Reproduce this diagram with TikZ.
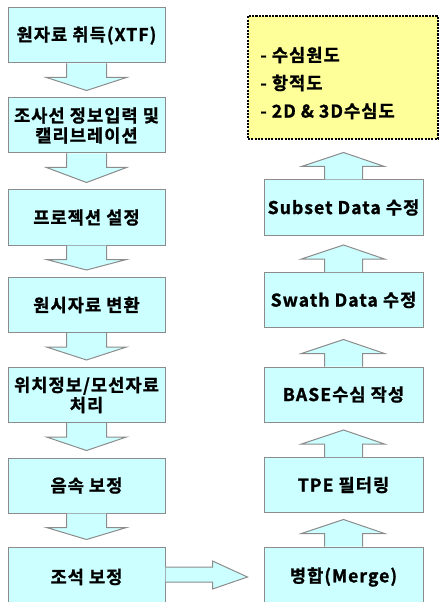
\documentclass[tikz,border=0pt]{standalone}
\usepackage{fontspec}
\newfontfamily\kfont{Noto Sans CJK KR}[UprightFont=* Bold, LetterSpace=6, FakeBold=1.2]
\usetikzlibrary{calc}
\definecolor{boxfill}{HTML}{CCFFFF}
\definecolor{boxline}{HTML}{8C8C8C}
\definecolor{noteyellow}{HTML}{FFFF99}
\tikzset{
  box/.style={draw=boxline, line width=0.75pt, fill=boxfill, inner sep=0pt, align=center,
    font=\kfont\fontsize{13.2}{13.5}\selectfont, text=black},
  lbox/.style={box, minimum width=117.75pt, minimum height=41.25pt},
  rbox/.style={box, minimum width=119.25pt, minimum height=41.25pt},
  blockarrow/.style={draw=boxline, line width=0.75pt, fill=boxfill, line join=miter},
  note/.style={draw=black, line width=1.3pt, dash pattern=on 1.6pt off 0.9pt, fill=noteyellow,
    minimum width=142.5pt, minimum height=92.25pt, inner sep=0pt}
}
% down block arrow from node #1 (south) to node #2
\newcommand\downblock[2]{%
  \draw[blockarrow] ($(#1.south)+(-20,0)$) -- ($(#1.south)+(-20,14)$) -- ($(#1.south)+(-40,14)$)
    -- ($(#2.north)+(0,-7)$) -- ($(#1.south)+(40,14)$) -- ($(#1.south)+(20,14)$) -- ($(#1.south)+(20,0)$);}
% up block arrow from node #1 (north) towards node #2
\newcommand\upblock[2]{%
  \draw[blockarrow] ($(#1.north)+(-19,0)$) -- ($(#1.north)+(-19,-13)$) -- ($(#1.north)+(-42,-13)$)
    -- ($(#1.north)+(0,-27)$) -- ($(#1.north)+(41,-13)$) -- ($(#1.north)+(19,-13)$) -- ($(#1.north)+(19,0)$);}
\begin{document}
\begin{tikzpicture}[x=0.75pt, y=-0.75pt]
\useasboundingbox (0,0) rectangle (440,602);
\clip (0,0) rectangle (440,602);
% left column
\node[lbox] (a1) at (86.5,35.5) {원자료 취득(XTF)};
\node[lbox] (a2) at (86.5,125.5) {조사선 정보입력 및\\[1.5pt]캘리브레이션};
\node[lbox] (a3) at (86.5,217.5) {프로젝션 설정};
\node[lbox] (a4) at (86.5,305) {원시자료 변환};
\node[lbox] (a5) at (86.5,395) {위치정보/모선자료\\[1.5pt]처리};
\node[lbox] (a6) at (86.5,485.5) {음속 보정};
\node[lbox, minimum height=45pt] (a7) at (86.5,577) {조석 보정};
% right column
\node[note, anchor=north west] (n) at (247,15) {};
\node[anchor=west, align=left, inner sep=0pt, font=\kfont\fontsize{13.2}{21}\selectfont] (nt) at (260,83)
  {- 수심원도\\- 항적도\\- 2D \& 3D수심도};
\node[rbox] (b1) at (343.5,207.5) {Subset Data 수정};
\node[rbox] (b2) at (343.5,300) {Swath Data 수정};
\node[rbox] (b3) at (343.5,394.5) {BASE수심 작성};
\node[rbox] (b4) at (343.5,485) {TPE 필터링};
\node[rbox, minimum height=45pt] (b5) at (343.5,577) {병합(Merge)};
% down arrows
\downblock{a1}{a2}
\downblock{a2}{a3}
\downblock{a3}{a4}
\downblock{a4}{a5}
\downblock{a5}{a6}
\downblock{a6}{a7}
% up arrows
\upblock{b1}{n}
\upblock{b2}{b1}
\upblock{b3}{b2}
\upblock{b4}{b3}
\upblock{b5}{b4}
% horizontal arrow
\draw[blockarrow] ($(a7.east)+(0,-10)$) -- ($(a7.east)+(47,-10)$) -- ($(a7.east)+(47,-16)$)
  -- ($(b5.west)+(-16,0)$) -- ($(a7.east)+(47,12)$) -- ($(a7.east)+(47,5)$) -- ($(a7.east)+(0,5)$);
\end{tikzpicture}
\end{document}
